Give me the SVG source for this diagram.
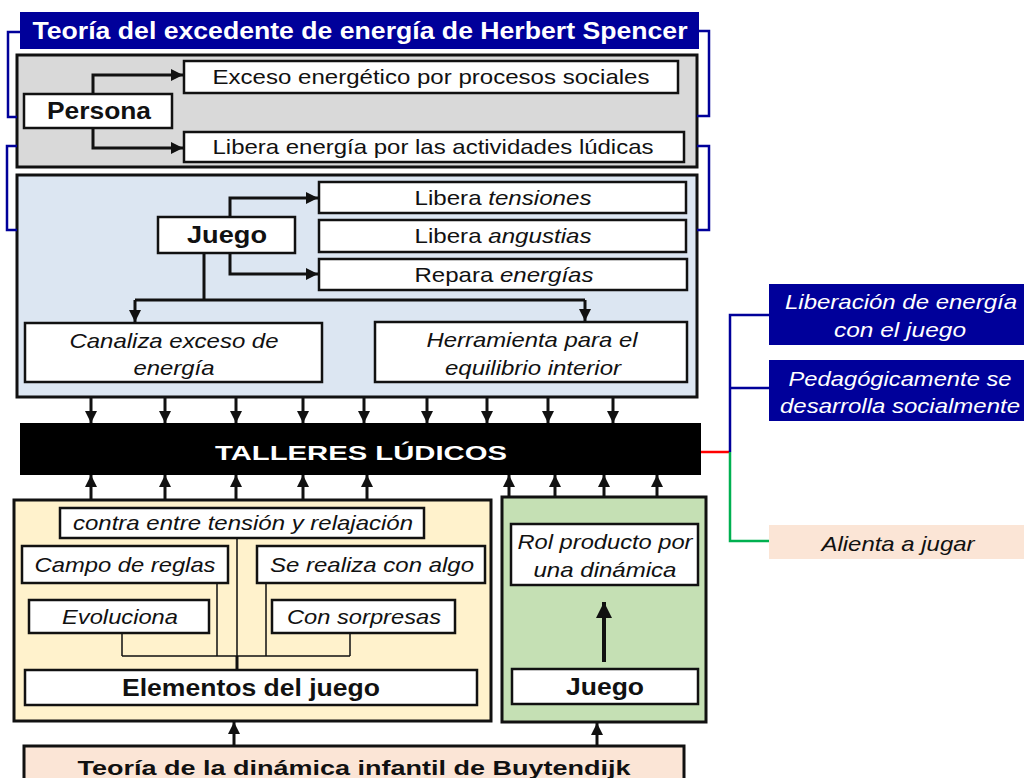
<svg xmlns="http://www.w3.org/2000/svg" width="1024" height="778" viewBox="0 0 1024 778">
<defs>
<marker id="ah" markerUnits="userSpaceOnUse" markerWidth="12" markerHeight="12" refX="12" refY="6" orient="auto"><path d="M0,0 L12,6 L0,12 z" fill="#111"/></marker>
<marker id="ahb" markerUnits="userSpaceOnUse" markerWidth="16" markerHeight="16" refX="16" refY="8" orient="auto"><path d="M0,0 L16,8 L0,16 z" fill="#111"/></marker>
<style>
.panel{stroke:#111;stroke-width:3}
.box{fill:#fff;stroke:#111;stroke-width:2.5}
.t{font-family:"Liberation Sans",Arial,sans-serif;font-size:21px;fill:#111;text-anchor:middle}
.b{font-weight:bold;font-size:23px}
.i{font-style:italic}
.w{fill:#fff}
.conn{fill:none;stroke:#111;stroke-width:3}
.thin{fill:none;stroke:#111;stroke-width:1.5}
.blue{fill:none;stroke:#00009a;stroke-width:2.5}
</style>
</defs>

<g id="title">
<rect x="20" y="12" width="679" height="37" fill="#00009a"/>
<text class="t b w" x="360" y="39" textLength="655" lengthAdjust="spacingAndGlyphs">Teoría del excedente de energía de Herbert Spencer</text>
</g>
<g id="persona-panel"><rect class="panel" x="17" y="55" width="680" height="112" fill="#d9d9d9"/></g>
<g id="juego-panel"><rect class="panel" x="17" y="175" width="680" height="222" fill="#dce6f2"/></g>
<g id="elementos-panel"><rect class="panel" x="14" y="500" width="477" height="221" fill="#fff2cc"/></g>
<g id="rol-panel"><rect class="panel" x="502" y="497" width="204" height="225" fill="#c5e0b4"/></g>

<g id="connectors">
<path class="blue" d="M20,32 H8 V117 H17"/>
<path class="blue" d="M698,31 H709 V116 H697"/>
<path class="blue" d="M17,146 H7 V230 H17"/>
<path class="blue" d="M697,146 H709 V230 H697"/>
<path class="conn" d="M93,94 V75 H183" marker-end="url(#ah)"/>
<path class="conn" d="M93,128 V148 H183" marker-end="url(#ah)"/>
<path class="conn" d="M230,217 V198 H318" marker-end="url(#ah)"/>
<path class="conn" d="M230,253 V274 H318" marker-end="url(#ah)"/>
<path class="conn" d="M204,253 V300 M135,300 H585"/>
<path class="conn" d="M135,300 V322" marker-end="url(#ah)"/>
<path class="conn" d="M585,300 V321" marker-end="url(#ah)"/>
<path class="conn" d="M91,398 V423" marker-end="url(#ah)"/>
<path class="conn" d="M165,398 V423" marker-end="url(#ah)"/>
<path class="conn" d="M236,398 V423" marker-end="url(#ah)"/>
<path class="conn" d="M303,398 V423" marker-end="url(#ah)"/>
<path class="conn" d="M364,398 V423" marker-end="url(#ah)"/>
<path class="conn" d="M427,398 V423" marker-end="url(#ah)"/>
<path class="conn" d="M487,398 V423" marker-end="url(#ah)"/>
<path class="conn" d="M548,398 V423" marker-end="url(#ah)"/>
<path class="conn" d="M613,398 V423" marker-end="url(#ah)"/>
<path class="conn" d="M91,500 V475" marker-end="url(#ah)"/>
<path class="conn" d="M165,500 V475" marker-end="url(#ah)"/>
<path class="conn" d="M236,500 V475" marker-end="url(#ah)"/>
<path class="conn" d="M303,500 V475" marker-end="url(#ah)"/>
<path class="conn" d="M367,500 V475" marker-end="url(#ah)"/>
<path class="conn" d="M509,498 V475" marker-end="url(#ah)"/>
<path class="conn" d="M555,498 V475" marker-end="url(#ah)"/>
<path class="conn" d="M604,498 V475" marker-end="url(#ah)"/>
<path class="conn" d="M657,498 V475" marker-end="url(#ah)"/>
<path class="thin" d="M237,538 V656 M217,583 V656 M266,583 V656 M122,633 V656 M350,633 V656 M122,656 H350"/>
<path class="conn" d="M237,656 V670"/>
<path class="conn" d="M234,745 V722" marker-end="url(#ah)"/>
<path class="conn" d="M597,745 V723" marker-end="url(#ah)"/>
<path fill="none" stroke="#111" stroke-width="4" d="M604,662 V602" marker-end="url(#ahb)"/>
<path fill="none" stroke="#ff0000" stroke-width="2.5" d="M701,452 H730"/>
<path class="blue" d="M730,452 V315 H770 M730,388 H770"/>
<path fill="none" stroke="#00b050" stroke-width="2.5" d="M730,452 V541 H770"/>
</g>

<g id="persona"><rect class="box" x="24" y="94" width="148" height="34"/><text class="t b" x="99" y="119" textLength="104" lengthAdjust="spacingAndGlyphs">Persona</text></g>
<g id="exceso"><rect class="box" x="184" y="61" width="494" height="32"/><text class="t" x="431" y="84" textLength="437" lengthAdjust="spacingAndGlyphs">Exceso energético por procesos sociales</text></g>
<g id="libera-energia"><rect class="box" x="184" y="132" width="500" height="30"/><text class="t" x="433" y="154" textLength="441" lengthAdjust="spacingAndGlyphs">Libera energía por las actividades lúdicas</text></g>

<g id="juego"><rect class="box" x="158" y="217" width="137" height="36"/><text class="t b" x="227" y="243" textLength="80" lengthAdjust="spacingAndGlyphs">Juego</text></g>
<g id="tensiones"><rect class="box" x="319" y="182" width="367" height="31"/><text class="t" x="503" y="205" textLength="177" lengthAdjust="spacingAndGlyphs">Libera <tspan class="i">tensiones</tspan></text></g>
<g id="angustias"><rect class="box" x="319" y="220" width="367" height="32"/><text class="t" x="503" y="243" textLength="177" lengthAdjust="spacingAndGlyphs">Libera <tspan class="i">angustias</tspan></text></g>
<g id="repara"><rect class="box" x="319" y="259" width="368" height="31"/><text class="t" x="504" y="282" textLength="179" lengthAdjust="spacingAndGlyphs">Repara <tspan class="i">energías</tspan></text></g>
<g id="canaliza"><rect class="box" x="25" y="323" width="297" height="59"/>
<text class="t i" x="174" y="348" textLength="209" lengthAdjust="spacingAndGlyphs">Canaliza exceso de</text>
<text class="t i" x="174" y="375" textLength="81" lengthAdjust="spacingAndGlyphs">energía</text></g>
<g id="herramienta"><rect class="box" x="375" y="322" width="312" height="60"/>
<text class="t i" x="532" y="347" textLength="211" lengthAdjust="spacingAndGlyphs">Herramienta para el</text>
<text class="t i" x="533" y="375" textLength="176" lengthAdjust="spacingAndGlyphs">equilibrio interior</text></g>

<g id="talleres"><rect x="20" y="423" width="681" height="52" fill="#000"/>
<text class="t w" x="361" y="460" font-weight="bold" font-size="28" textLength="292" lengthAdjust="spacingAndGlyphs">TALLERES LÚDICOS</text></g>

<g id="contra"><rect class="box" x="60" y="508" width="364" height="30"/><text class="t i" x="243" y="530" textLength="340" lengthAdjust="spacingAndGlyphs">contra entre tensión y relajación</text></g>
<g id="campo"><rect class="box" x="22" y="546" width="206" height="37"/><text class="t i" x="125" y="572" textLength="181" lengthAdjust="spacingAndGlyphs">Campo de reglas</text></g>
<g id="realiza"><rect class="box" x="257" y="546" width="228" height="37"/><text class="t i" x="372" y="572" textLength="204" lengthAdjust="spacingAndGlyphs">Se realiza con algo</text></g>
<g id="evoluciona"><rect class="box" x="29" y="600" width="180" height="33"/><text class="t i" x="120" y="624" textLength="116" lengthAdjust="spacingAndGlyphs">Evoluciona</text></g>
<g id="sorpresas"><rect class="box" x="272" y="600" width="183" height="33"/><text class="t i" x="364" y="624" textLength="154" lengthAdjust="spacingAndGlyphs">Con sorpresas</text></g>
<g id="elementos"><rect class="box" x="25" y="670" width="452" height="35"/><text class="t b" x="251" y="696" textLength="258" lengthAdjust="spacingAndGlyphs">Elementos del juego</text></g>

<g id="rol"><rect class="box" x="511" y="524" width="187" height="61"/>
<text class="t i" x="605" y="549" textLength="175" lengthAdjust="spacingAndGlyphs">Rol producto por</text>
<text class="t i" x="605" y="577" textLength="143" lengthAdjust="spacingAndGlyphs">una dinámica</text></g>
<g id="juego2"><rect class="box" x="512" y="669" width="186" height="35"/><text class="t b" x="605" y="695" textLength="78" lengthAdjust="spacingAndGlyphs">Juego</text></g>

<g id="buytendijk"><rect class="panel" x="24" y="746" width="660" height="40" fill="#fbe5d6"/>
<text class="t" x="354" y="775" font-weight="bold" font-size="22" textLength="553" lengthAdjust="spacingAndGlyphs">Teoría de la dinámica infantil de Buytendijk</text></g>

<g id="liberacion"><rect x="769" y="284" width="255" height="61" fill="#00009a"/>
<text class="t i w" x="901" y="309" textLength="232" lengthAdjust="spacingAndGlyphs">Liberación de energía</text>
<text class="t i w" x="900" y="337" textLength="132" lengthAdjust="spacingAndGlyphs">con el juego</text></g>
<g id="pedagogicamente"><rect x="769" y="360" width="255" height="61" fill="#00009a"/>
<text class="t i w" x="900" y="386" textLength="223" lengthAdjust="spacingAndGlyphs">Pedagógicamente se</text>
<text class="t i w" x="900" y="413" textLength="240" lengthAdjust="spacingAndGlyphs">desarrolla socialmente</text></g>
<g id="alienta"><rect x="769" y="525" width="255" height="34" fill="#fbe5d6"/>
<text class="t i" x="898" y="551" textLength="153" lengthAdjust="spacingAndGlyphs">Alienta a jugar</text></g>
</svg>
